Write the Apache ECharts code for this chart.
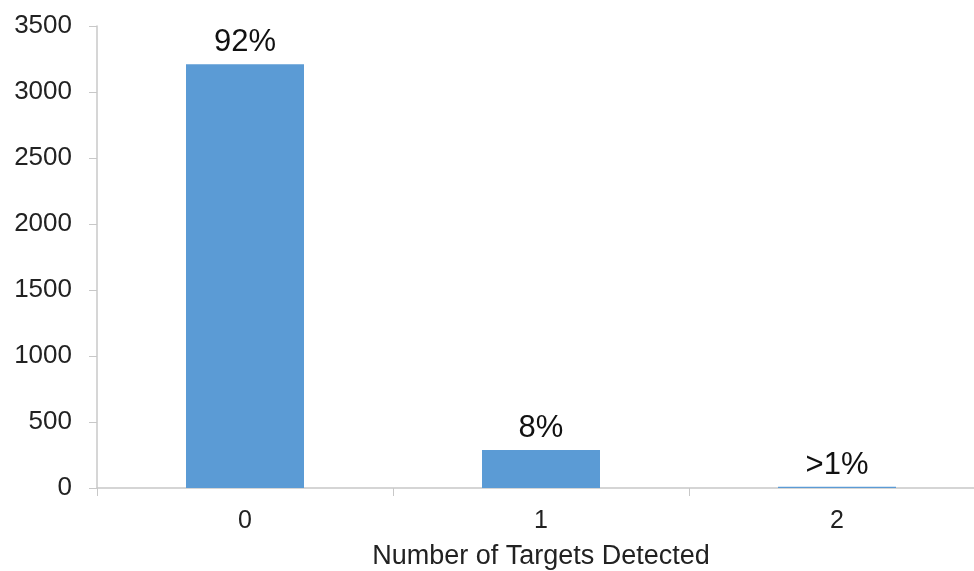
<!DOCTYPE html>
<html>
<head>
<meta charset="utf-8">
<script src="https://cdn.jsdelivr.net/npm/echarts@6/dist/echarts.min.js"></script>
<style>html,body{margin:0;padding:0;background:#fff;}#c{width:974px;height:571px;}</style>
</head>
<body>
<div id="c"></div>
<script>
var categories = ["0", "1", "2"];
var counts = [3210, 288, 10];
var percentLabels = ["92%", "8%", ">1%"];
var yTicks = [0, 500, 1000, 1500, 2000, 2500, 3000, 3500];

var chart = echarts.init(document.getElementById('c'));
chart.setOption({
  animation: false,
  grid: { left: 97, top: 26, width: 888, height: 462, outerBoundsMode: 'none', containLabel: false },
  xAxis: {
    type: 'category',
    data: categories,
    name: 'Number of Targets Detected',
    nameLocation: 'middle',
    nameGap: 55,
    nameTextStyle: { fontFamily: 'Liberation Sans', fontSize: 27, color: '#222' },
    axisLine: { lineStyle: { color: '#c8c8c8', width: 1.5 } },
    axisTick: { show: true, length: 8, lineStyle: { color: '#c8c8c8' } },
    axisLabel: { margin: 21, fontFamily: 'Liberation Sans', fontSize: 25, color: '#222' }
  },
  yAxis: {
    type: 'value',
    min: yTicks[0],
    max: yTicks[yTicks.length - 1],
    interval: 500,
    axisLine: { show: true, lineStyle: { color: '#c8c8c8', width: 1.5 } },
    axisTick: { show: true, length: 8, lineStyle: { color: '#c8c8c8' } },
    splitLine: { show: false },
    axisLabel: {
      margin: 25, fontFamily: 'Liberation Sans', fontSize: 26, color: '#222',
      formatter: function (v) { return String(v); }
    }
  },
  series: [{
    type: 'bar',
    data: counts,
    barWidth: 118,
    itemStyle: { color: '#5b9bd5' },
    label: {
      show: true,
      position: 'top',
      distance: 6,
      fontFamily: 'Liberation Sans',
      fontSize: 31,
      color: '#111',
      formatter: function (p) { return percentLabels[p.dataIndex]; }
    }
  }]
});
</script>
</body>
</html>
